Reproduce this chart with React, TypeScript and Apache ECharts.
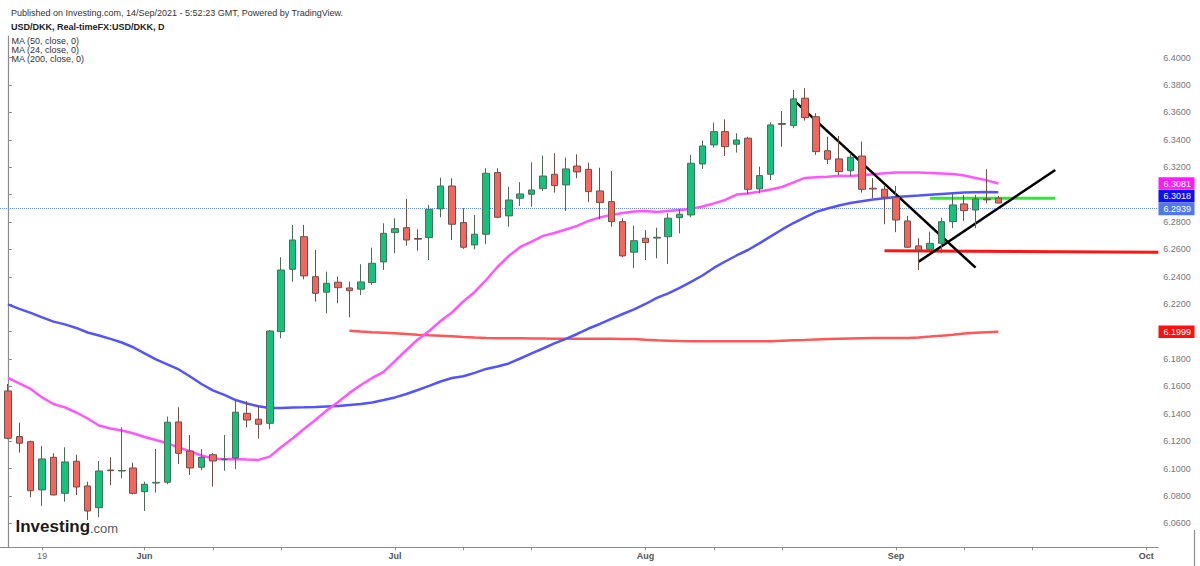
import React, { useEffect, useRef } from "react";
import * as echarts from "echarts";

// ---- Data ----
// daily candles, index 0 = 14 May 2021 ... index 87 = 14 Sep 2021
const openP = [
  6.1567, 6.1234, 6.1197, 6.0845, 6.1083, 6.082, 6.1054, 6.0874, 6.0715, 6.099,
  6.0983, 6.1005, 6.0832, 6.0895, 6.0901, 6.1341, 6.1129, 6.101, 6.1102, 6.1066,
  6.1078, 6.1404, 6.1361, 6.1331, 6.2, 6.2455, 6.2693, 6.2401, 6.2288, 6.2361,
  6.2319, 6.231, 6.2358, 6.2509, 6.2723, 6.2759, 6.268, 6.2686, 6.2896, 6.3063,
  6.2796, 6.2633, 6.2711, 6.3161, 6.2845, 6.2974, 6.3003, 6.3044, 6.3149, 6.3071,
  6.3209, 6.3185, 6.3027, 6.2949, 6.2803, 6.258, 6.2682, 6.2683, 6.2693, 6.2832,
  6.2852, 6.3224, 6.3363, 6.346, 6.3368, 6.3412, 6.3042, 6.3149, 6.3519, 6.3504,
  6.3704, 6.3569, 6.3321, 6.3261, 6.3175, 6.3282, 6.3047, 6.3039, 6.2981, 6.2808,
  6.2626, 6.2601, 6.2645, 6.2803, 6.2932, 6.2888, 6.2968, 6.2974,
];
const closeP = [
  6.1222, 6.1186, 6.0839, 6.1071, 6.0808, 6.1049, 6.0866, 6.0691, 6.0983, 6.0985,
  6.0987, 6.082, 6.0886, 6.09, 6.1339, 6.1112, 6.1005, 6.1083, 6.1056, 6.107,
  6.1412, 6.1355, 6.1324, 6.2005, 6.245, 6.2669, 6.2407, 6.228, 6.2353, 6.2321,
  6.2299, 6.2363, 6.2499, 6.2718, 6.2752, 6.2669, 6.2675, 6.2893, 6.3063, 6.2784,
  6.2616, 6.2711, 6.3156, 6.2835, 6.2961, 6.3005, 6.3034, 6.3136, 6.3066, 6.3188,
  6.3166, 6.3022, 6.2942, 6.2803, 6.2553, 6.2664, 6.265, 6.2689, 6.2828, 6.2857,
  6.3229, 6.3355, 6.346, 6.335, 6.3399, 6.3039, 6.3139, 6.3509, 6.3513, 6.3699,
  6.3562, 6.3314, 6.3258, 6.3168, 6.3273, 6.3039, 6.3041, 6.2981, 6.2815, 6.2616,
  6.2596, 6.2645, 6.2803, 6.2925, 6.2883, 6.2969, 6.2962, 6.2939,
];
const lowP = [
  6.1215, 6.1117, 6.0791, 6.0728, 6.0805, 6.0759, 6.0808, 6.0625, 6.0645, 6.0879,
  6.093, 6.0812, 6.0691, 6.0825, 6.0886, 6.1034, 6.0954, 6.0988, 6.0869, 6.0985,
  6.0996, 6.1302, 6.1219, 6.1288, 6.1952, 6.2365, 6.2382, 6.2219, 6.2134, 6.2207,
  6.2105, 6.2268, 6.2341, 6.245, 6.2572, 6.2628, 6.2591, 6.2523, 6.2835, 6.2669,
  6.2604, 6.2601, 6.2638, 6.2828, 6.2766, 6.2918, 6.2912, 6.3027, 6.3015, 6.2881,
  6.312, 6.2945, 6.282, 6.2766, 6.2543, 6.2463, 6.2523, 6.2536, 6.2494, 6.2718,
  6.2835, 6.3188, 6.3343, 6.3282, 6.3307, 6.3003, 6.301, 6.3107, 6.335, 6.3485,
  6.354, 6.329, 6.3224, 6.3144, 6.3136, 6.3015, 6.2974, 6.2784, 6.2726, 6.2613,
  6.245, 6.2591, 6.2572, 6.2755, 6.2808, 6.2755, 6.2937, 6.2937,
];
const highP = [
  6.1618, 6.1336, 6.1205, 6.1166, 6.1112, 6.1156, 6.1102, 6.0905, 6.1056, 6.1083,
  6.1302, 6.1044, 6.0905, 6.1144, 6.138, 6.1448, 6.1246, 6.1142, 6.1112, 6.1246,
  6.1501, 6.1494, 6.1453, 6.201, 6.2543, 6.2779, 6.2779, 6.2596, 6.2438, 6.2401,
  6.2365, 6.2492, 6.2613, 6.2791, 6.2828, 6.2969, 6.2747, 6.2925, 6.3124, 6.312,
  6.2901, 6.2852, 6.3193, 6.3193, 6.3058, 6.3091, 6.3236, 6.3285, 6.3302, 6.327,
  6.3295, 6.3234, 6.3197, 6.3173, 6.2828, 6.2774, 6.2742, 6.2759, 6.2864, 6.2896,
  6.329, 6.3394, 6.3526, 6.355, 6.3448, 6.3423, 6.3204, 6.3528, 6.3611, 6.3764,
  6.3777, 6.3594, 6.3423, 6.3428, 6.3302, 6.3387, 6.312, 6.3063, 6.3063, 6.2845,
  6.2682, 6.273, 6.2832, 6.3015, 6.2998, 6.2998, 6.3185, 6.2991,
];
// MA (50) - blue
const ma50 = [
  6.2199, 6.2166, 6.2137, 6.2104, 6.2073, 6.2053, 6.2027, 6.1994, 6.1972, 6.1947,
  6.1921, 6.1886, 6.1841, 6.1797, 6.1761, 6.1724, 6.1673, 6.1618, 6.1571, 6.1538,
  6.1501, 6.1476, 6.1455, 6.1443, 6.1443, 6.1447, 6.1448, 6.145, 6.1454, 6.1458,
  6.1465, 6.1472, 6.1483, 6.1501, 6.152, 6.1545, 6.1574, 6.1604, 6.1636, 6.1662,
  6.1674, 6.1699, 6.1728, 6.1746, 6.1768, 6.1804, 6.1841, 6.1877, 6.1914, 6.1947,
  6.1983, 6.2023, 6.2056, 6.2093, 6.2129, 6.2162, 6.2202, 6.2246, 6.2279, 6.2319,
  6.2363, 6.241, 6.2465, 6.2512, 6.2556, 6.2596, 6.2644, 6.2695, 6.2746, 6.2793,
  6.2834, 6.2874, 6.2899, 6.2921, 6.2939, 6.2952, 6.2964, 6.2974, 6.2983, 6.2988,
  6.2993, 6.2999, 6.3005, 6.301, 6.3015, 6.3018, 6.302, 6.3018,
];
// MA (24) - magenta
const ma24 = [
  6.1662, 6.1622, 6.1582, 6.152, 6.1472, 6.1447, 6.141, 6.1366, 6.1315, 6.1293,
  6.1279, 6.1258, 6.1231, 6.1209, 6.1185, 6.1155, 6.1126, 6.1096, 6.1074, 6.1069,
  6.1071, 6.1067, 6.1064, 6.1088, 6.1158, 6.122, 6.129, 6.1355, 6.1425, 6.1487,
  6.1553, 6.1611, 6.1662, 6.1706, 6.1786, 6.1866, 6.1943, 6.2005, 6.2078, 6.214,
  6.222, 6.229, 6.2377, 6.2472, 6.2553, 6.2618, 6.2658, 6.2699, 6.272, 6.2746,
  6.2772, 6.2808, 6.2834, 6.2852, 6.2866, 6.2877, 6.2881, 6.2874, 6.2881, 6.2888,
  6.2896, 6.2914, 6.2936, 6.2961, 6.3001, 6.3009, 6.3022, 6.3038, 6.3056, 6.3089,
  6.3122, 6.3127, 6.3131, 6.3138, 6.3136, 6.3142, 6.3149, 6.3156, 6.3161, 6.3161,
  6.3161, 6.3158, 6.3155, 6.3151, 6.314, 6.3122, 6.3104, 6.3081,
];
// MA (200) - red, drawn from candle index 30
const ma200Start = 30;
const ma200 = [
  6.2007, 6.2001, 6.1996, 6.1992, 6.1988, 6.1983, 6.1978, 6.1974, 6.1971, 6.1966,
  6.1961, 6.1957, 6.1954, 6.1952, 6.1951, 6.1951, 6.195, 6.195, 6.1949, 6.1949,
  6.1949, 6.1948, 6.1948, 6.1948, 6.1947, 6.1947, 6.1941, 6.1937, 6.1934, 6.1931,
  6.193, 6.193, 6.193, 6.193, 6.193, 6.193, 6.193, 6.193, 6.1934, 6.1938,
  6.194, 6.1943, 6.1946, 6.1948, 6.195, 6.1952, 6.1953, 6.1953, 6.1954, 6.1954,
  6.1958, 6.1964, 6.1971, 6.1977, 6.1986, 6.1992, 6.1996, 6.1999,
];
// hand-drawn annotations [candle index, price]
const trendDown = [[68.9, 6.3699], [85, 6.2467]];
const trendUp = [[80, 6.2511], [92, 6.318]];
const supportRed = [[77, 6.2591], [101.05, 6.2579]];
const levelGreen = [[81, 6.2974], [92, 6.2974]];

// axes
const xMin = -0.7;
const xMax = 101.05;
const xTickIdx = [3, 12, 18, 24, 34, 40, 46, 56, 62, 68, 78, 84, 90, 100];
const xLabelIdx = [3, 12, 34, 56, 78, 100];
const xLabelText = ["19", "Jun", "Jul", "Aug", "Sep", "Oct"];
const yMin = 6.0426;
const yMax = 6.4158;
const yTicks = [
  6.06, 6.08, 6.1, 6.12, 6.14, 6.16, 6.18, 6.2, 6.22, 6.24, 6.26, 6.28, 6.3,
  6.32, 6.34, 6.36, 6.38, 6.4,
];

const FONT = '"Liberation Sans", Arial, sans-serif';

export default function App() {
  const ref = useRef<HTMLDivElement>(null);

  useEffect(() => {
    if (!ref.current) return;
    const chart = echarts.init(ref.current, null, { renderer: "svg" });

    const candleData = openP.map((o, i) => [i, o, closeP[i], lowP[i], highP[i]]);
    const ma50Data = ma50.map((v, i) => [i, v]);
    const ma24Data = ma24.map((v, i) => [i, v]);
    const ma200Data = ma200.map((v, i) => [i + ma200Start, v]);

    const drawLine = (data: number[][], color: string, width: number) => ({
      type: "line",
      data,
      showSymbol: false,
      symbol: "none",
      silent: true,
      z: 5,
      lineStyle: { color, width },
    });

    const option: any = {
      animation: false,
      backgroundColor: "#ffffff",
      textStyle: { fontFamily: FONT },
      grid: { left: 0, right: 41.7, top: 36, bottom: 18.7, containLabel: false },
      xAxis: {
        type: "value",
        min: xMin,
        max: xMax,
        splitLine: { show: false },
        axisLine: { show: true, lineStyle: { color: "#8c8c8c", width: 1.2 } },
        axisTick: {
          show: true,
          length: 3,
          lineStyle: { color: "#8c8c8c" },
          customValues: xTickIdx,
        },
        axisLabel: {
          show: true,
          customValues: xLabelIdx,
          margin: 4,
          fontSize: 9,
          color: "#666",
          fontFamily: FONT,
          formatter: (v: number) => {
            const k = xLabelIdx.indexOf(Math.round(v));
            if (k < 0) return "";
            const t = xLabelText[k];
            return /^\d+$/.test(t) ? t : "{b|" + t + "}";
          },
          rich: {
            b: { fontWeight: "bold", fontSize: 9, color: "#555", fontFamily: FONT },
          },
        },
      },
      yAxis: {
        type: "value",
        position: "right",
        min: yMin,
        max: yMax,
        splitLine: { show: false },
        axisLine: { show: true, lineStyle: { color: "#8c8c8c", width: 1.2 } },
        axisTick: {
          show: true,
          length: 4,
          lineStyle: { color: "#8c8c8c" },
          customValues: yTicks,
        },
        axisLabel: {
          show: true,
          customValues: yTicks,
          margin: 5,
          fontSize: 9,
          color: "#777",
          fontFamily: FONT,
          formatter: (v: number) => v.toFixed(4),
        },
      },
      series: [
        drawLine(ma200Data, "#ff5757", 2.5),
        drawLine(ma50Data, "#5454ff", 2.5),
        drawLine(ma24Data, "#ff55ff", 2.5),
        {
          type: "candlestick",
          data: candleData,
          encode: { x: 0, y: [1, 2, 3, 4] },
          barWidth: 7,
          z: 6,
          itemStyle: {
            color: "#13c27b",
            color0: "#f4665b",
            borderColor: "#4f6a58",
            borderColor0: "#70504a",
            borderWidth: 1,
          },
          markLine: {
            silent: true,
            symbol: "none",
            label: { show: false },
            lineStyle: { type: "dotted", color: "#6d8cf5", width: 1 },
            data: [{ yAxis: closeP[closeP.length - 1] }],
          },
        },
        drawLine(supportRed, "#ff1414", 3),
        drawLine(levelGreen, "#33e633", 3),
        drawLine(trendDown, "#000000", 2.5),
        drawLine(trendUp, "#000000", 2.5),
      ],
    };

    chart.setOption(option);

    // right-hand price boxes, placed from the axis scale
    const last = openP.length - 1;
    const boxes = [
      { v: ma24[last], bg: "#ff1aff" },
      { v: ma50[last], bg: "#0f0fff" },
      { v: closeP[last], bg: "#4f78ee" },
      { v: ma200[ma200.length - 1], bg: "#ff0f0f" },
    ]
      .map((b) => ({ ...b, py: chart.convertToPixel({ yAxisIndex: 0 }, b.v) as number }))
      .sort((a, b) => a.py - b.py);
    const boxH = 12.4;
    let prevBottom = -1e9;
    const boxEls: any[] = [];
    boxes.forEach((b) => {
      let top = b.py - boxH / 2;
      if (top < prevBottom + 0.3) top = prevBottom + 0.3;
      prevBottom = top + boxH;
      boxEls.push({
        type: "rect",
        z: 100,
        shape: { x: 1158.5, y: top, width: 36, height: boxH },
        style: { fill: b.bg },
      });
      boxEls.push({
        type: "text",
        z: 101,
        x: 1163.5,
        y: top + boxH / 2,
        style: {
          text: b.v.toFixed(4),
          fill: "#ffffff",
          font: "9px " + FONT,
          align: "left",
          verticalAlign: "middle",
        },
      });
    });

    const txt = (text: string, x: number, y: number, font: string, fill: string) => ({
      type: "text",
      z: 100,
      x,
      y,
      style: { text, fill, font, align: "left", verticalAlign: "middle" },
    });

    chart.setOption({
      graphic: [
        txt(
          "Published on Investing.com, 14/Sep/2021 - 5:52:23 GMT, Powered by TradingView.",
          11,
          12.7,
          "9px " + FONT,
          "#333"
        ),
        txt("USD/DKK, Real-timeFX:USD/DKK, D", 11, 26.7, "bold 9px " + FONT, "#222"),
        txt("MA (50, close, 0)", 11.5, 40.7, "9px " + FONT, "#333"),
        txt("MA (24, close, 0)", 11.5, 49.8, "9px " + FONT, "#333"),
        txt("MA (200, close, 0)", 11.5, 58.8, "9px " + FONT, "#333"),
        txt("Investing", 15.5, 526.5, "bold 17px " + FONT, "#1c1c1c"),
        txt(".com", 90, 528.5, "13px " + FONT, "#5a5a5a"),
        {
          type: "line",
          z: 100,
          shape: { x1: 1194.5, y1: 530, x2: 1194.5, y2: 566 },
          style: { stroke: "#8c8c8c", lineWidth: 1.2 },
        },
        ...boxEls,
      ],
    });

    return () => chart.dispose();
  }, []);

  return (
    <div
      ref={ref}
      style={{ position: "fixed", left: 0, top: 0, width: 1200, height: 566, background: "#fff" }}
    />
  );
}
